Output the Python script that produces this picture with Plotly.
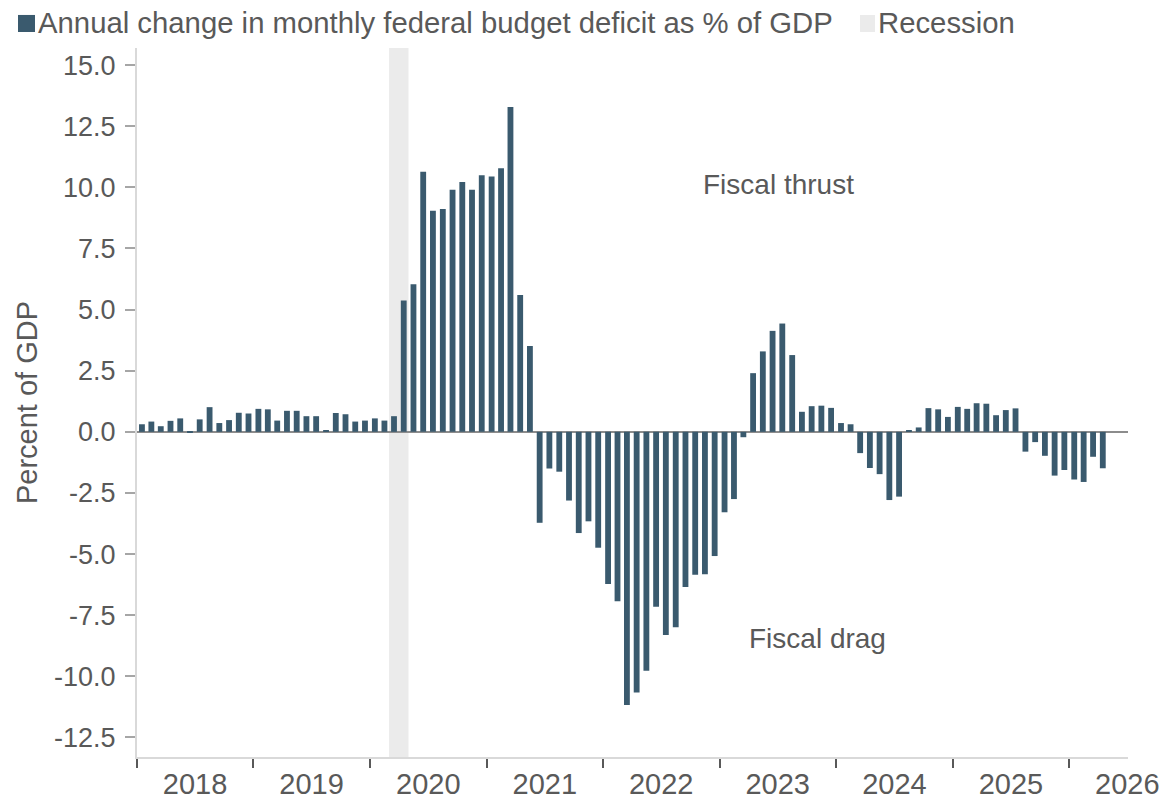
import pandas as pd
import plotly.graph_objects as go

# Annual change in monthly federal budget deficit, % of GDP
change_2018 = [0.31, 0.42, 0.23, 0.45, 0.55, -0.03, 0.51, 1.01, 0.36, 0.48, 0.78, 0.75]
change_2019 = [0.94, 0.92, 0.46, 0.86, 0.86, 0.64, 0.64, 0.07, 0.77, 0.72, 0.42, 0.46]
change_2020 = [0.55, 0.46, 0.64, 5.37, 6.04, 10.64, 9.04, 9.11, 9.90, 10.22, 9.90, 10.50]
change_2021 = [10.44, 10.78, 13.29, 5.60, 3.51, -3.72, -1.50, -1.63, -2.81, -4.14, -3.66, -4.74]
change_2022 = [-6.22, -6.93, -11.17, -10.66, -9.77, -7.15, -8.31, -7.99, -6.35, -5.85, -5.82, -5.08]
change_2023 = [-3.29, -2.75, -0.22, 2.40, 3.29, 4.13, 4.43, 3.14, 0.82, 1.05, 1.07, 0.98]
change_2024 = [0.36, 0.31, -0.87, -1.48, -1.73, -2.79, -2.65, 0.05, 0.18, 0.97, 0.92, 0.61]
change_2025 = [1.02, 0.94, 1.17, 1.15, 0.68, 0.89, 0.96, -0.81, -0.42, -0.98, -1.79, -1.56]
change_2026 = [-1.95, -2.05, -1.02, -1.49]

deficit_change = (change_2018 + change_2019 + change_2020 + change_2021 + change_2022
                  + change_2023 + change_2024 + change_2025 + change_2026)
months = pd.date_range("2018-01-01", periods=len(deficit_change), freq="MS")

recession_start = "2020-03-01"
recession_end = "2020-05-01"

year_starts = ["2018-01-01", "2019-01-01", "2020-01-01", "2021-01-01", "2022-01-01",
               "2023-01-01", "2024-01-01", "2025-01-01", "2026-01-01"]
year_mids = ["2018-07-02", "2019-07-02", "2020-07-02", "2021-07-02", "2022-07-02",
             "2023-07-02", "2024-07-02", "2025-07-02", "2026-07-02"]
year_labels = ["2018", "2019", "2020", "2021", "2022", "2023", "2024", "2025", "2026"]

y_ticks = [-12.5, -10.0, -7.5, -5.0, -2.5, 0.0, 2.5, 5.0, 7.5, 10.0, 12.5, 15.0]
y_labels = ["-12.5", "-10.0", "-7.5", "-5.0", "-2.5", "0.0", "2.5", "5.0", "7.5", "10.0", "12.5", "15.0"]

BAR = "#3a5a6e"
SHADE = "#ebebeb"
TEXT = "#595959"
FONT = "Liberation Sans, Arial, sans-serif"

fig = go.Figure()
fig.add_trace(go.Bar(
    x=months, y=deficit_change,
    xperiod="M1", xperiodalignment="middle",
    marker=dict(color=BAR, line=dict(width=0)),
    showlegend=False,
))

fig.add_vrect(x0=recession_start, x1=recession_end, fillcolor=SHADE,
              line_width=0, layer="below")

# hand-made legend, squares sized like the original
fig.add_shape(type="rect", xref="paper", yref="paper",
              x0=-0.1201, x1=-0.1029, y0=1.0226, y1=1.0466,
              fillcolor=BAR, line_width=0)
fig.add_annotation(text="Annual change in monthly federal budget deficit as % of GDP",
                   xref="paper", yref="paper", x=-0.1019, y=1.0366,
                   xanchor="left", yanchor="middle", showarrow=False,
                   font=dict(size=29.3, color=TEXT, family=FONT))
fig.add_shape(type="rect", xref="paper", yref="paper",
              x0=0.7296, x1=0.7447, y0=1.0226, y1=1.0466,
              fillcolor=SHADE, line_width=0)
fig.add_annotation(text="Recession", xref="paper", yref="paper", x=0.7457, y=1.0366,
                   xanchor="left", yanchor="middle", showarrow=False,
                   font=dict(size=29.3, color=TEXT, family=FONT))

fig.add_annotation(text="Fiscal thrust", x="2023-07-05", y=10.1, showarrow=False,
                   font=dict(size=28, color=TEXT, family=FONT))
fig.add_annotation(text="Fiscal drag", x="2023-11-05", y=-8.44, showarrow=False,
                   font=dict(size=28, color=TEXT, family=FONT))

fig.update_layout(
    width=1162, height=801,
    margin=dict(l=137, r=34, t=48, b=44),
    plot_bgcolor="white", paper_bgcolor="white",
    bargap=0.38,
    font=dict(family=FONT, color=TEXT),
    xaxis=dict(
        type="date", range=["2018-01-01", "2026-07-04"],
        tickmode="array", tickvals=year_mids, ticktext=year_labels,
        ticks="", showgrid=False, zeroline=False,
        showline=True, linecolor="#d9d9d9", linewidth=2,
        tickfont=dict(size=29, color=TEXT),
        minor=dict(tickmode="array", tickvals=year_starts, ticks="outside",
                   ticklen=9, tickwidth=2, tickcolor="#595959", showgrid=False),
        automargin=False,
    ),
    yaxis=dict(
        range=[-13.3, 15.7],
        tickmode="array", tickvals=y_ticks, ticktext=y_labels,
        ticks="outside", ticklen=10, tickwidth=2, tickcolor="#a6a6a6",
        ticklabelstandoff=4,
        showgrid=False,
        showline=True, linecolor="#d9d9d9", linewidth=2,
        zeroline=True, zerolinecolor="#8c8c8c", zerolinewidth=2,
        tickfont=dict(size=27, color=TEXT),
        title=dict(text="Percent of GDP", font=dict(size=29, color=TEXT), standoff=8),
        automargin=False,
    ),
)

# drop the page's default body margin so the figure sits at the window's corner
fig.write_html("out.html", config={"displayModeBar": False},
               post_script="document.body.style.margin = '0';")
